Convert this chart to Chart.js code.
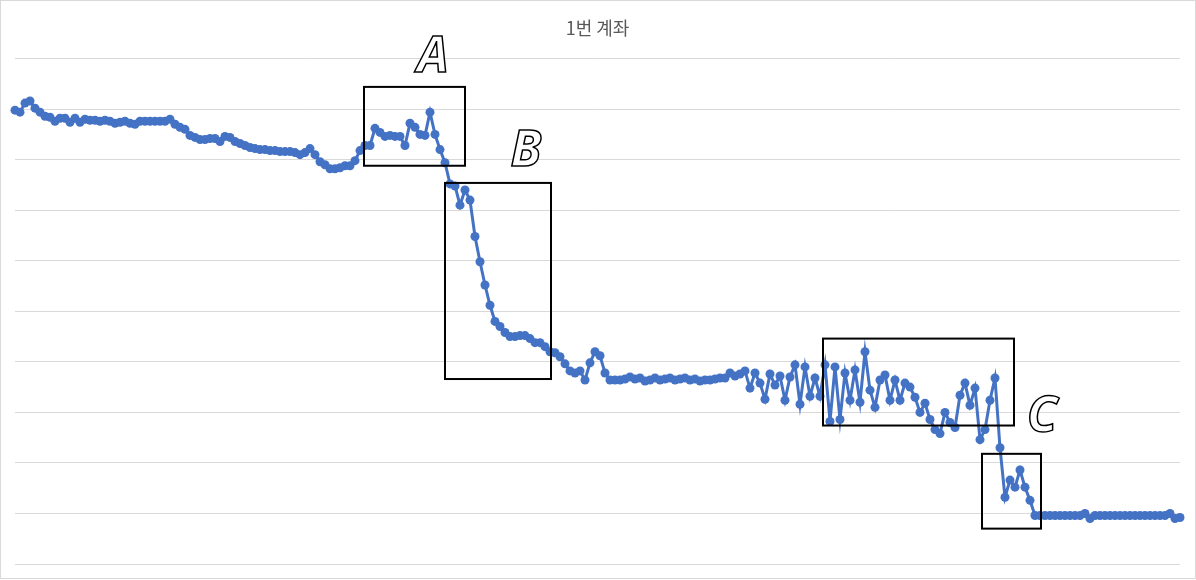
<!DOCTYPE html>
<html>
<head>
<meta charset="utf-8">
<script src="https://cdn.jsdelivr.net/npm/chart.js@4"></script>
<style>
    html, body { margin: 0; padding: 0; background: #fff; }
    #wrap { width: 1196px; height: 580px; position: relative; }
</style>
</head>
<body>
<div id="wrap"><canvas id="accountChart"></canvas></div>
<script>
const chartTitle = "1번 계좌";

// balance, arbitrary units (grid every 50)
const balance = [
    449,447,456,458,451,447,443,442,438,441,
    441,437,441,437,440,439,439,438,439,438,
    436,437,438,436,435,438,438,438,438,438,
    438,440,435,432,430,424,422,420,420,421,
    421,418,423,422,418,416,414,412,411,410,
    410,409,409,408,408,408,407,405,407,411,
    405,398,395,391,391,392,394,394,399,409,
    414,414,431,427,423,424,423,423,414,436,
    432,425,424,447,425,410,397,376,374,355,
    370,360,324,299,276,256,240,235,229,225,
    225,226,226,223,219,219,215,210,209,205,
    198,191,189,191,182,199,210,206,189,182,
    182,182,183,185,183,184,181,182,184,182,
    183,184,182,183,184,182,183,181,182,182,
    183,184,184,189,186,188,191,174,189,179,
    163,188,177,186,162,185,197,158,195,166,
    184,166,197,141,195,143,189,162,192,160,
    210,172,155,182,187,162,182,162,179,175,
    165,150,159,143,133,129,150,140,135,167,
    179,157,174,123,133,162,184,115,66,83,
    76,93,76,63,48,48,48,48,48,48,
    48,48,48,48,50,45,48,48,48,48,
    48,48,48,48,48,48,48,48,48,48,
    48,50,45,46
];

const days = balance.map((v, i) => i + 1);

// highlighted periods: day range (index) and value range
const boxStart = [69.8, 86, 161.6, 193.4];
const boxEnd   = [90, 107.2, 199.8, 205.2];
const boxHigh  = [472, 377, 223, 109];
const boxLow   = [394, 183, 137, 35];

const markLetters = ["A", "B", "C"];
const markDay     = [83.6, 102.2, 205.4];
const markValue   = [501, 408, 145];

const frame = {
    id: "frame",
    beforeDraw(chart) {
        const c = chart.ctx;
        c.save();
        c.fillStyle = "#ffffff";
        c.fillRect(0, 0, chart.width, chart.height);
        c.strokeStyle = "#d9d9d9";
        c.lineWidth = 1;
        c.strokeRect(0.5, 0.5, chart.width - 1, chart.height - 2);
        c.restore();
    }
};

const marks = {
    id: "marks",
    afterDatasetsDraw(chart) {
        const c = chart.ctx;
        const xs = chart.scales.x;
        const ys = chart.scales.y;
        c.save();
        c.strokeStyle = "#000000";
        c.lineWidth = 2;
        boxStart.forEach((s, i) => {
            const x0 = xs.getPixelForValue(s);
            const x1 = xs.getPixelForValue(boxEnd[i]);
            const y0 = ys.getPixelForValue(boxHigh[i]);
            const y1 = ys.getPixelForValue(boxLow[i]);
            c.strokeRect(x0, y0, x1 - x0, y1 - y0);
        });
        c.font = 'italic 700 50px "Open Sans"';
        c.textAlign = "center";
        c.textBaseline = "middle";
        c.lineWidth = 1.5;
        c.fillStyle = "#ffffff";
        markLetters.forEach((t, i) => {
            const x = xs.getPixelForValue(markDay[i]);
            const y = ys.getPixelForValue(markValue[i]);
            c.fillText(t, x, y);
            c.strokeText(t, x, y);
        });
        c.restore();
    }
};

const ctx = document.getElementById("accountChart").getContext("2d");

const config = {
    type: "line",
    data: {
        labels: days,
        datasets: [
            {
                data: balance,
                borderColor: "#4472c4",
                backgroundColor: "#4472c4",
                pointBackgroundColor: "#4472c4",
                pointBorderColor: "#4472c4",
                borderWidth: 3,
                pointRadius: 4.5,
                pointBorderWidth: 0,
                tension: 0,
                clip: false
            }
        ]
    },
    options: {
        responsive: true,
        maintainAspectRatio: false,
        animation: false,
        events: [],
        layout: {
            autoPadding: false,
            padding: { top: 0, left: 15, right: 16, bottom: 16 }
        },
        plugins: {
            legend: { display: false },
            tooltip: { enabled: false },
            title: {
                display: true,
                text: chartTitle,
                color: "#595959",
                font: { family: '"Noto Sans CJK KR", "Noto Sans"', size: 18, weight: "normal" },
                padding: { top: 17, bottom: 20 }
            }
        },
        scales: {
            x: {
                display: false,
                offset: false
            },
            y: {
                min: 0,
                max: 500,
                ticks: { display: false, stepSize: 50 },
                grid: { color: "#d9d9d9", drawTicks: false },
                border: { display: false }
            }
        }
    },
    plugins: [frame, marks]
};

let myChart = new Chart(ctx, config);
</script>
</body>
</html>
